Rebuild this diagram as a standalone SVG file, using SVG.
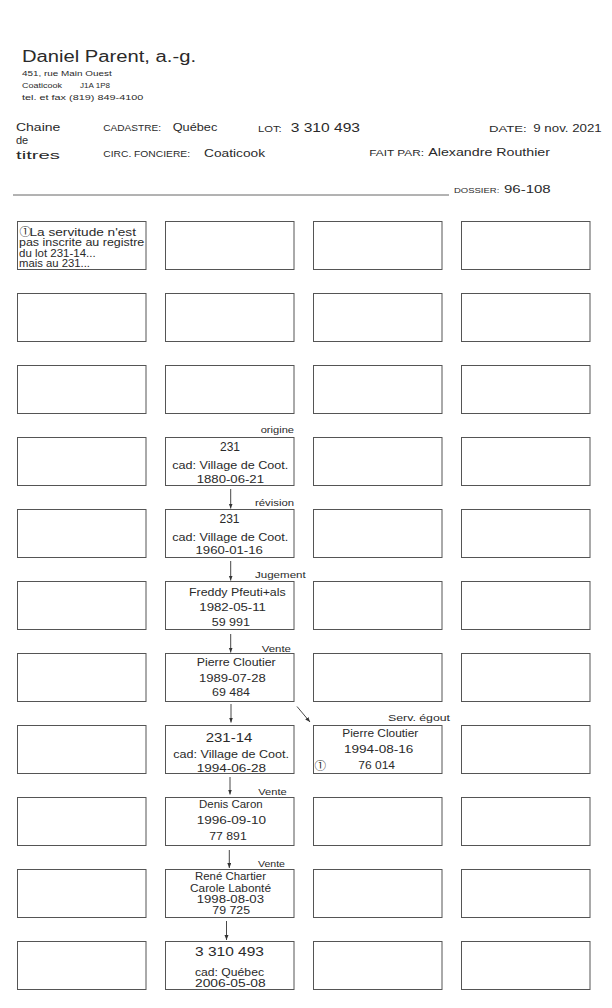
<svg xmlns="http://www.w3.org/2000/svg" width="612" height="1008" viewBox="0 0 612 1008">
<style>
text{font-family:"Liberation Sans","DejaVu Sans","Noto Sans CJK SC",sans-serif;fill:#2a2a2a;}
.box{fill:#fff;stroke:#555;stroke-width:1;}
.t{font-size:10px;}
.big{font-size:12px;}
.lbl{font-size:9.5px;}
.sm{font-size:7.5px;}
.hdr{font-size:11.5px;}
.cap{font-size:8.5px;}
.circ{font-size:11.5px;font-family:"Noto Sans CJK SC","DejaVu Sans",sans-serif;}
.conn{stroke:#333;stroke-width:0.9;fill:none;}
</style>
<defs>
<marker id="ah" markerUnits="userSpaceOnUse" markerWidth="6" markerHeight="6" refX="5" refY="2" orient="auto">
<path d="M0,0 L5,2 L0,4 z" fill="#333"/>
</marker>
</defs>
<rect x="0" y="0" width="612" height="1008" fill="#fff"/>
<g id="header">
<text x="22" y="62" font-size="16" textLength="174" lengthAdjust="spacingAndGlyphs">Daniel Parent, a.-g.</text>
<text x="22" y="76" class="sm" textLength="89.7" lengthAdjust="spacingAndGlyphs">451, rue Main Ouest</text>
<text x="22" y="87.7" class="sm" textLength="40" lengthAdjust="spacingAndGlyphs">Coaticook</text>
<text x="80" y="87.7" class="sm" textLength="30" lengthAdjust="spacingAndGlyphs">J1A 1P8</text>
<text x="22" y="100" class="sm" textLength="121.3" lengthAdjust="spacingAndGlyphs">tel. et fax (819) 849-4100</text>
<text x="16" y="130.7" font-size="11" textLength="44.3" lengthAdjust="spacingAndGlyphs">Chaine</text>
<text x="16" y="144.3" font-size="11">de</text>
<text x="16" y="158.7" font-size="11" textLength="44" lengthAdjust="spacingAndGlyphs">titres</text>
<text x="103.3" y="131.3" class="cap" textLength="57.7" lengthAdjust="spacingAndGlyphs">CADASTRE:</text>
<text x="172.7" y="131.3" class="hdr" textLength="44.6" lengthAdjust="spacingAndGlyphs">Québec</text>
<text x="258" y="132" class="cap" textLength="23.7" lengthAdjust="spacingAndGlyphs">LOT:</text>
<text x="290.7" y="132" class="big" textLength="69.3" lengthAdjust="spacingAndGlyphs">3 310 493</text>
<text x="489" y="132" class="cap" textLength="37.7" lengthAdjust="spacingAndGlyphs">DATE:</text>
<text x="533.3" y="132" class="hdr" textLength="68.4" lengthAdjust="spacingAndGlyphs">9 nov. 2021</text>
<text x="103.3" y="156.7" class="cap" textLength="86.7" lengthAdjust="spacingAndGlyphs">CIRC. FONCIERE:</text>
<text x="204" y="156.7" class="hdr" textLength="61" lengthAdjust="spacingAndGlyphs">Coaticook</text>
<text x="369.3" y="155.7" class="cap" textLength="54.7" lengthAdjust="spacingAndGlyphs">FAIT PAR:</text>
<text x="428.3" y="155.7" class="hdr" textLength="121.7" lengthAdjust="spacingAndGlyphs">Alexandre Routhier</text>
<line x1="13" y1="195" x2="449" y2="195" stroke="#666" stroke-width="1"/>
<text x="454" y="192.7" class="sm" textLength="45.3" lengthAdjust="spacingAndGlyphs">DOSSIER:</text>
<text x="504" y="192.7" class="hdr" textLength="46.7" lengthAdjust="spacingAndGlyphs">96-108</text>
</g>
<g id="grid">
<rect class="box" x="17.5" y="221.5" width="128.5" height="48"/><rect class="box" x="165.5" y="221.5" width="128.5" height="48"/><rect class="box" x="313.5" y="221.5" width="128.5" height="48"/><rect class="box" x="461.5" y="221.5" width="128.5" height="48"/>
<rect class="box" x="17.5" y="293.5" width="128.5" height="48"/><rect class="box" x="165.5" y="293.5" width="128.5" height="48"/><rect class="box" x="313.5" y="293.5" width="128.5" height="48"/><rect class="box" x="461.5" y="293.5" width="128.5" height="48"/>
<rect class="box" x="17.5" y="365.5" width="128.5" height="48"/><rect class="box" x="165.5" y="365.5" width="128.5" height="48"/><rect class="box" x="313.5" y="365.5" width="128.5" height="48"/><rect class="box" x="461.5" y="365.5" width="128.5" height="48"/>
<rect class="box" x="17.5" y="437.5" width="128.5" height="48"/><rect class="box" x="313.5" y="437.5" width="128.5" height="48"/><rect class="box" x="461.5" y="437.5" width="128.5" height="48"/>
<rect class="box" x="17.5" y="509.5" width="128.5" height="48"/><rect class="box" x="313.5" y="509.5" width="128.5" height="48"/><rect class="box" x="461.5" y="509.5" width="128.5" height="48"/>
<rect class="box" x="17.5" y="581.5" width="128.5" height="48"/><rect class="box" x="313.5" y="581.5" width="128.5" height="48"/><rect class="box" x="461.5" y="581.5" width="128.5" height="48"/>
<rect class="box" x="17.5" y="653.5" width="128.5" height="48"/><rect class="box" x="313.5" y="653.5" width="128.5" height="48"/><rect class="box" x="461.5" y="653.5" width="128.5" height="48"/>
<rect class="box" x="17.5" y="725.5" width="128.5" height="48"/><rect class="box" x="461.5" y="725.5" width="128.5" height="48"/>
<rect class="box" x="17.5" y="797.5" width="128.5" height="48"/><rect class="box" x="313.5" y="797.5" width="128.5" height="48"/><rect class="box" x="461.5" y="797.5" width="128.5" height="48"/>
<rect class="box" x="17.5" y="869.5" width="128.5" height="48"/><rect class="box" x="313.5" y="869.5" width="128.5" height="48"/><rect class="box" x="461.5" y="869.5" width="128.5" height="48"/>
<rect class="box" x="17.5" y="941.5" width="128.5" height="48"/><rect class="box" x="313.5" y="941.5" width="128.5" height="48"/><rect class="box" x="461.5" y="941.5" width="128.5" height="48"/>
</g>
<g id="note">
<text x="19.5" y="236" class="circ">①</text>
<text x="29.5" y="235.7" class="t" textLength="106.5" lengthAdjust="spacingAndGlyphs">La servitude n'est</text>
<text x="19" y="246" class="t" textLength="125.3" lengthAdjust="spacingAndGlyphs">pas inscrite au registre</text>
<text x="19" y="256.7" class="t" textLength="76.7" lengthAdjust="spacingAndGlyphs">du lot 231-14...</text>
<text x="19" y="266.7" class="t" textLength="71" lengthAdjust="spacingAndGlyphs">mais au 231...</text>
</g>
<g id="n231-origine">
<rect class="box" x="165.5" y="437.5" width="128.5" height="48"/>
<text x="220" y="451" class="big" textLength="20" lengthAdjust="spacingAndGlyphs">231</text>
<text x="172.3" y="469.3" class="t" textLength="116" lengthAdjust="spacingAndGlyphs">cad: Village de Coot.</text>
<text x="196.7" y="482.7" class="t" textLength="67.3" lengthAdjust="spacingAndGlyphs">1880-06-21</text>
</g>
<g id="n231-revision">
<rect class="box" x="165.5" y="509.5" width="128.5" height="48"/>
<text x="219.5" y="522.7" class="big" textLength="20" lengthAdjust="spacingAndGlyphs">231</text>
<text x="172.3" y="541" class="t" textLength="116" lengthAdjust="spacingAndGlyphs">cad: Village de Coot.</text>
<text x="195.5" y="554" class="t" textLength="67.3" lengthAdjust="spacingAndGlyphs">1960-01-16</text>
</g>
<g id="n59991">
<rect class="box" x="165.5" y="581.5" width="128.5" height="48"/>
<text x="189" y="595.7" class="t" textLength="96.7" lengthAdjust="spacingAndGlyphs">Freddy Pfeuti+als</text>
<text x="199.3" y="610.7" class="t" textLength="66.7" lengthAdjust="spacingAndGlyphs">1982-05-11</text>
<text x="211.7" y="625.7" class="t" textLength="38.3" lengthAdjust="spacingAndGlyphs">59 991</text>
</g>
<g id="n69484">
<rect class="box" x="165.5" y="653.5" width="128.5" height="48"/>
<text x="196.7" y="666" class="t" textLength="79" lengthAdjust="spacingAndGlyphs">Pierre Cloutier</text>
<text x="199" y="681.7" class="t" textLength="66.7" lengthAdjust="spacingAndGlyphs">1989-07-28</text>
<text x="212" y="696" class="t" textLength="38" lengthAdjust="spacingAndGlyphs">69 484</text>
</g>
<g id="n231-14">
<rect class="box" x="165.5" y="725.5" width="128.5" height="48"/>
<text x="205.7" y="741.7" class="big" textLength="46.6" lengthAdjust="spacingAndGlyphs">231-14</text>
<text x="173.3" y="758.3" class="t" textLength="115.7" lengthAdjust="spacingAndGlyphs">cad: Village de Coot.</text>
<text x="196.7" y="771.7" class="t" textLength="69.3" lengthAdjust="spacingAndGlyphs">1994-06-28</text>
</g>
<g id="n76014">
<rect class="box" x="313.5" y="725.5" width="128.5" height="48"/>
<text x="342.3" y="736.7" class="t" textLength="76" lengthAdjust="spacingAndGlyphs">Pierre Cloutier</text>
<text x="344" y="753.3" class="t" textLength="69.3" lengthAdjust="spacingAndGlyphs">1994-08-16</text>
<text x="314.5" y="769.8" class="circ">①</text>
<text x="358.3" y="769.3" class="t" textLength="36.7" lengthAdjust="spacingAndGlyphs">76 014</text>
</g>
<g id="n77891">
<rect class="box" x="165.5" y="797.5" width="128.5" height="48"/>
<text x="199" y="808.3" class="t" textLength="63.7" lengthAdjust="spacingAndGlyphs">Denis Caron</text>
<text x="196.7" y="824.3" class="t" textLength="69.3" lengthAdjust="spacingAndGlyphs">1996-09-10</text>
<text x="209.3" y="840" class="t" textLength="37.4" lengthAdjust="spacingAndGlyphs">77 891</text>
</g>
<g id="n79725">
<rect class="box" x="165.5" y="869.5" width="128.5" height="48"/>
<text x="195" y="880" class="t" textLength="71" lengthAdjust="spacingAndGlyphs">René Chartier</text>
<text x="190" y="891.7" class="t" textLength="81" lengthAdjust="spacingAndGlyphs">Carole Labonté</text>
<text x="196.7" y="902.7" class="t" textLength="67.3" lengthAdjust="spacingAndGlyphs">1998-08-03</text>
<text x="212.3" y="914.3" class="t" textLength="37.7" lengthAdjust="spacingAndGlyphs">79 725</text>
</g>
<g id="n3310493">
<rect class="box" x="165.5" y="941.5" width="128.5" height="48"/>
<text x="195" y="956" class="big" textLength="69" lengthAdjust="spacingAndGlyphs">3 310 493</text>
<text x="195" y="975.7" class="t" textLength="69" lengthAdjust="spacingAndGlyphs">cad: Québec</text>
<text x="195" y="986.7" class="t" textLength="70.7" lengthAdjust="spacingAndGlyphs">2006-05-08</text>
</g>
<g id="connectors">
<line class="conn" x1="230.7" y1="489" x2="230.7" y2="508.5" marker-end="url(#ah)"/>
<line class="conn" x1="230.7" y1="561" x2="230.7" y2="580.5" marker-end="url(#ah)"/>
<line class="conn" x1="230.7" y1="634" x2="230.7" y2="652.5" marker-end="url(#ah)"/>
<line class="conn" x1="231" y1="704" x2="231" y2="722.5" marker-end="url(#ah)"/>
<line class="conn" x1="297" y1="706.5" x2="310" y2="722" marker-end="url(#ah)"/>
<line class="conn" x1="230" y1="777" x2="230" y2="794.5" marker-end="url(#ah)"/>
<line class="conn" x1="229.3" y1="850" x2="229.3" y2="868" marker-end="url(#ah)"/>
<line class="conn" x1="226.5" y1="921" x2="226.5" y2="940" marker-end="url(#ah)"/>
<text x="260.7" y="433.3" class="lbl" textLength="33.3" lengthAdjust="spacingAndGlyphs">origine</text>
<text x="255" y="506" class="lbl" textLength="39" lengthAdjust="spacingAndGlyphs">révision</text>
<text x="255" y="578.3" class="lbl" textLength="50.7" lengthAdjust="spacingAndGlyphs">Jugement</text>
<text x="261.7" y="651.7" class="lbl" textLength="29.3" lengthAdjust="spacingAndGlyphs">Vente</text>
<text x="388" y="721" class="lbl" textLength="62" lengthAdjust="spacingAndGlyphs">Serv. égout</text>
<text x="258.3" y="795" class="lbl" textLength="28.4" lengthAdjust="spacingAndGlyphs">Vente</text>
<text x="258" y="867.3" class="lbl" textLength="27" lengthAdjust="spacingAndGlyphs">Vente</text>
</g>
</svg>
